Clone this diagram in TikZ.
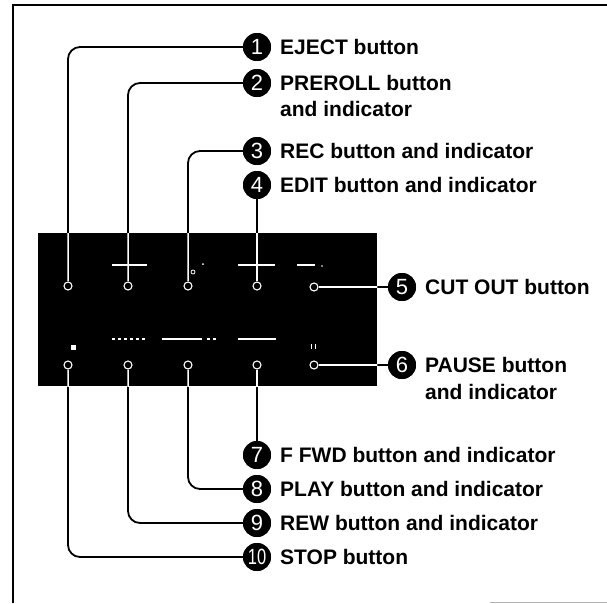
\documentclass[tikz,border=0pt]{standalone}
\usepackage{fontspec}
\setmainfont{Liberation Sans}
\usepackage{graphicx}
\newcommand\drawleads[2]{%
  \draw[lead,#1,line width=#2] (c1.west) -| (b1.north);
  \draw[lead,#1,line width=#2] (c2.west) -| (b2.north);
  \draw[lead,#1,line width=#2] (c3.west) -| (b3.north);
  \draw[lead,#1,line width=#2] (c4.south) -- (b4.north);
  \draw[lead,#1,line width=#2] (b5.east) -- (c5.west);
  \draw[lead,#1,line width=#2] (b6.east) -- (c6.west);
  \draw[lead,#1,line width=#2] (b7.south) -- (c7.north);
  \draw[lead,#1,line width=#2] (b8.south) |- (c8.west);
  \draw[lead,#1,line width=#2] (b9.south) |- (c9.west);
  \draw[lead,#1,line width=#2] (b10.south) |- (c10.west);
}
\begin{document}
\begin{tikzpicture}[x=1pt,y=-1pt,
  lead/.style={rounded corners=12pt},
  num/.style={circle, fill=black, text=white, inner sep=0pt, minimum size=28pt,
    font=\fontsize{22}{22}\selectfont},
  lab/.style={anchor=base west, inner sep=0pt, font=\fontsize{21}{21}\selectfont\bfseries},
  btn/.style={circle, draw=white, line width=1.1pt, minimum size=8pt, inner sep=0pt},
  deco/.style={white, line width=1.1pt}
]
\useasboundingbox (0,0) rectangle (607,603);
% frame
\draw[line width=1.3pt] (607,5) -- (13,5) -- (13,603);
\draw[black!30, line width=0.8pt] (490,602) -- (607,602);
% panel
\node[fill=black, minimum width=339pt, minimum height=153pt, inner sep=0pt,
  anchor=north west] (panel) at (38,233) {};
% buttons
\node[btn] (b1) at (68,286) {};
\node[btn] (b2) at (128,286) {};
\node[btn] (b3) at (188,286) {};
\node[btn] (b4) at (257,286) {};
\node[btn] (b5) at (314,287) {};
\node[btn] (b6) at (314,365) {};
\node[btn] (b7) at (257,365) {};
\node[btn] (b8) at (188,365) {};
\node[btn] (b9) at (128,365) {};
\node[btn] (b10) at (68,365) {};
% numbered circles
\node[num] (c1) at (257,47) {1};
\node[num] (c2) at (257,83) {2};
\node[num] (c3) at (257,151) {3};
\node[num] (c4) at (257,185) {4};
\node[num] (c5) at (402,287) {5};
\node[num] (c6) at (402,365) {6};
\node[num] (c7) at (257,455) {7};
\node[num] (c8) at (257,489) {8};
\node[num] (c9) at (257,523) {9};
\node[num] (c10) at (257,557) {\scalebox{0.75}[1]{10}};
% leaders
\drawleads{black}{1.8pt}
\begin{scope}
  \clip (panel.north west) rectangle (panel.south east);
  \drawleads{white}{1.5pt}
\end{scope}
% circles on top of leaders
\foreach \i in {1,...,9} { \node[num] at (c\i) {\i}; }
\node[num] at (c10) {\scalebox{0.75}[1]{10}};
% panel details
\draw[deco] (112,265) -- (147,265);
\draw[deco] (238,265) -- (275,265);
\draw[deco] (297,265) -- (315,265);
\fill[white] (203,264) circle (1pt);
\fill[white] (322,266) circle (0.8pt);
\draw[white, line width=0.8pt] (193,272) circle (2pt);
\draw[deco, dashed] (112,339) -- (145,339);
\draw[deco] (162,339) -- (202,339);
\draw[deco, dashed] (207,339) -- (217,339);
\draw[deco] (238,339) -- (276,339);
\fill[white] (70.5,344.5) rectangle (75.5,349.5);
\draw[white, line width=0.8pt] (311,344) -- (311,349) (315,344) -- (315,349);
% labels
\node[lab] (t1) at (280,54.5) {EJECT button};
\node[lab] (t2) at (280,90.5) {PREROLL button};
\node[lab] (t2b) at (280,116.5) {and indicator};
\node[lab] (t3) at (280,158.5) {REC button and indicator};
\node[lab] (t4) at (280,192.5) {EDIT button and indicator};
\node[lab] (t5) at (425,294.5) {CUT OUT button};
\node[lab] (t6) at (425,372.5) {PAUSE button};
\node[lab] (t6b) at (425,399.5) {and indicator};
\node[lab] (t7) at (280,462.5) {F FWD button and indicator};
\node[lab] (t8) at (280,496.5) {PLAY button and indicator};
\node[lab] (t9) at (280,530.5) {REW button and indicator};
\node[lab] (t10) at (280,564.5) {STOP button};
\end{tikzpicture}
\end{document}
